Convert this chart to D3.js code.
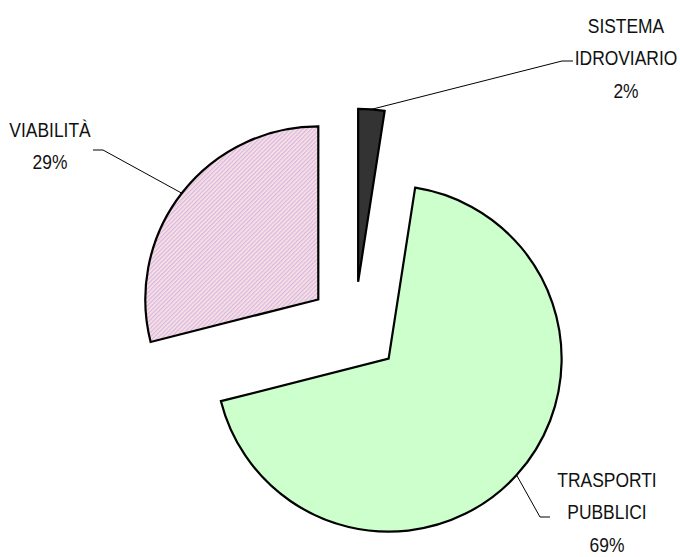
<!DOCTYPE html>
<html>
<head>
<meta charset="utf-8">
<script src="https://cdn.jsdelivr.net/npm/d3@7"></script>
<style>
  body { margin: 0; background: #fff; }
  svg text {
    font-family: "Liberation Sans Narrow", "Arial Narrow", "Liberation Sans", Arial, sans-serif;
    font-size: 21px;
    fill: #111;
  }
</style>
</head>
<body>
<svg id="chart" width="680" height="557"></svg>
<script>
// ---------- DATA ----------
const categories = ["SISTEMA IDROVIARIO", "TRASPORTI PUBBLICI", "VIABILITÀ"];
const shares = [2.45, 68.6, 28.95];
const labelLines = [["SISTEMA", "IDROVIARIO"], ["TRASPORTI", "PUBBLICI"], ["VIABILITÀ"]];
const fills = ["#333333", "#ccffcc", "url(#hatch)"];

// label placement (text centre x, first baseline, leader elbow / end)
const labelLayout = [
  { x: 626, y: 33, elbow: [562, 61], end: [573, 61] },
  { x: 607, y: 487, elbow: [540, 517], end: [550, 517] },
  { x: 50, y: 137, elbow: [103, 150], end: [93, 150] }
];

const svg = d3.select("#chart");
const cx = 354.6, cy = 327.7;
const radius = 173;
const explode = 46;
const lineGap = 32.5;
const squeeze = 0.83; // narrow font look

// hatch pattern for VIABILITÀ
const defs = svg.append("defs");
const pat = defs.append("pattern")
  .attr("id", "hatch")
  .attr("patternUnits", "userSpaceOnUse")
  .attr("width", 3)
  .attr("height", 3)
  .attr("patternTransform", "rotate(45)");
pat.append("rect").attr("width", 3).attr("height", 3).attr("fill", "#fbe4da");
pat.append("rect").attr("width", 1.3).attr("height", 3).attr("fill", "#d6b6ee");

const total = d3.sum(shares);
const pie = d3.pie().sort(null).value(d => d);
const arcs = pie(shares);
const arc = d3.arc().innerRadius(0).outerRadius(radius);

const g = svg.append("g").attr("transform", `translate(${cx},${cy})`);

function offset(d) {
  const a = (d.startAngle + d.endAngle) / 2;
  return [explode * Math.sin(a), -explode * Math.cos(a)];
}

// ---------- SLICES ----------
g.selectAll("path.slice")
  .data(arcs)
  .enter()
  .append("path")
  .attr("class", "slice")
  .attr("transform", d => `translate(${offset(d)})`)
  .attr("d", arc)
  .attr("fill", (d, i) => fills[i])
  .attr("stroke", "#000")
  .attr("stroke-width", 2.2)
  .attr("stroke-linejoin", "miter");

// ---------- LEADER LINES + LABELS ----------
arcs.forEach((d, i) => {
  const a = (d.startAngle + d.endAngle) / 2;
  const [ox, oy] = offset(d);
  const sx = cx + ox + radius * Math.sin(a);
  const sy = cy + oy - radius * Math.cos(a);
  const L = labelLayout[i];
  svg.append("polyline")
    .attr("points", [[sx, sy], L.elbow, L.end].map(p => p.join(",")).join(" "))
    .attr("fill", "none")
    .attr("stroke", "#000")
    .attr("stroke-width", 1);

  const lines = labelLines[i].concat([Math.round(shares[i] / total * 100) + "%"]);
  const t = svg.append("text")
    .attr("text-anchor", "middle")
    .attr("transform", `translate(${L.x},0) scale(${squeeze},1)`);
  lines.forEach((s, k) => {
    t.append("tspan")
      .attr("x", 0)
      .attr("y", L.y + k * lineGap)
      .text(s);
  });
  t.append("title").text(categories[i]);
});
</script>
</body>
</html>
